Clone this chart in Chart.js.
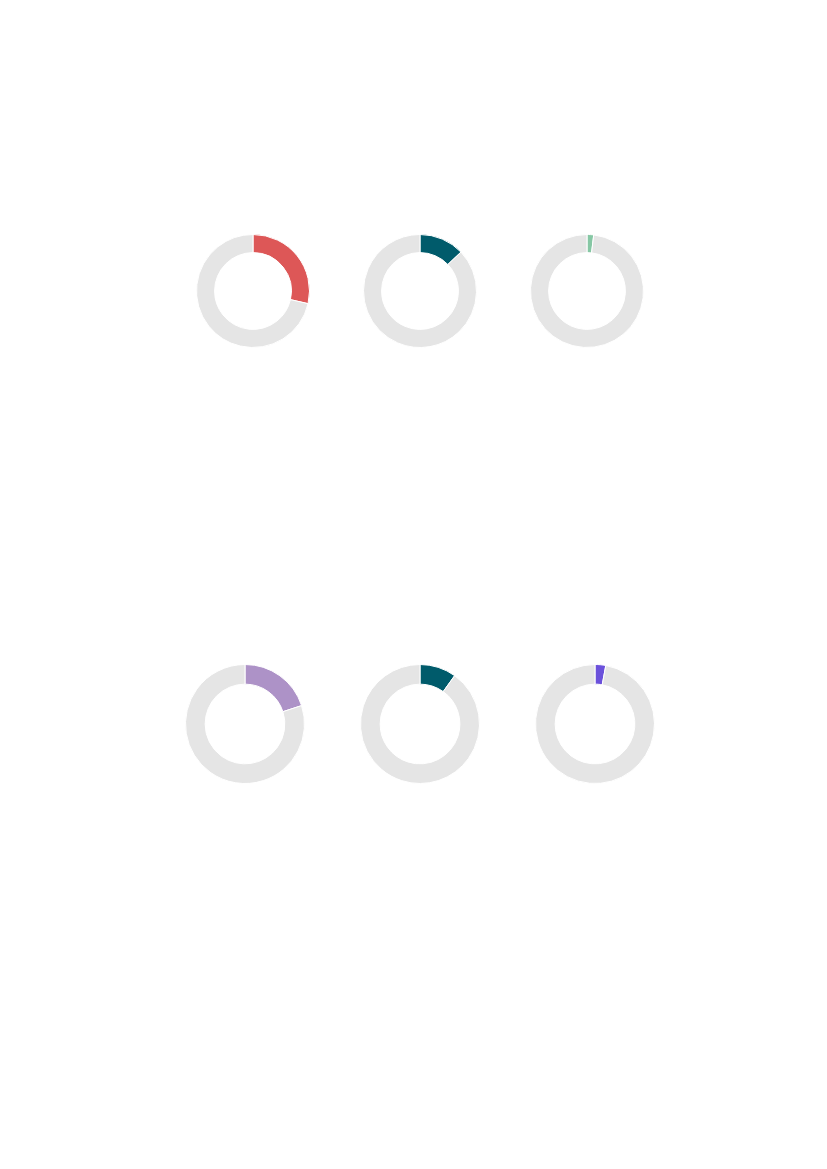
<!DOCTYPE html>
<html>
<head>
<meta charset="utf-8">
<script src="https://cdn.jsdelivr.net/npm/chart.js@4"></script>
<style>
  html, body { margin: 0; padding: 0; background: #fff; }
  body { width: 827px; height: 1169px; position: relative; overflow: hidden; }
  .donut { position: absolute; }
  .row1 { top: 234px; width: 114px; height: 114px; }
  .row2 { top: 664px; width: 120px; height: 120px; }
</style>
</head>
<body>
<div class="donut row1" style="left:196px"><canvas id="d0"></canvas></div>
<div class="donut row1" style="left:363px"><canvas id="d1"></canvas></div>
<div class="donut row1" style="left:530px"><canvas id="d2"></canvas></div>
<div class="donut row2" style="left:185px"><canvas id="d3"></canvas></div>
<div class="donut row2" style="left:360px"><canvas id="d4"></canvas></div>
<div class="donut row2" style="left:535px"><canvas id="d5"></canvas></div>
<script>
// share (percent) shown by each ring
const shares = [28.6, 12.9, 1.9, 20.0, 9.9, 2.9];
const shareColors = ["#dd5757", "#005b6b", "#86c7a4", "#ad92c7", "#005b6b", "#6b51db"];
const restColor = "#e5e5e5";
const cutouts = ["68%", "68%", "68%", "67%", "67%", "67%"];

shares.forEach((v, i) => {
  new Chart(document.getElementById("d" + i), {
    type: "doughnut",
    data: {
      labels: ["share", "rest"],
      datasets: [{
        data: [v, 100 - v],
        backgroundColor: [shareColors[i], restColor],
        borderColor: "#fff",
        borderWidth: 1,
      }],
    },
    options: {
      responsive: true,
      maintainAspectRatio: false,
      animation: false,
      cutout: cutouts[i],
      plugins: { legend: { display: false }, tooltip: { enabled: false } },
    },
  });
});
</script>
</body>
</html>
